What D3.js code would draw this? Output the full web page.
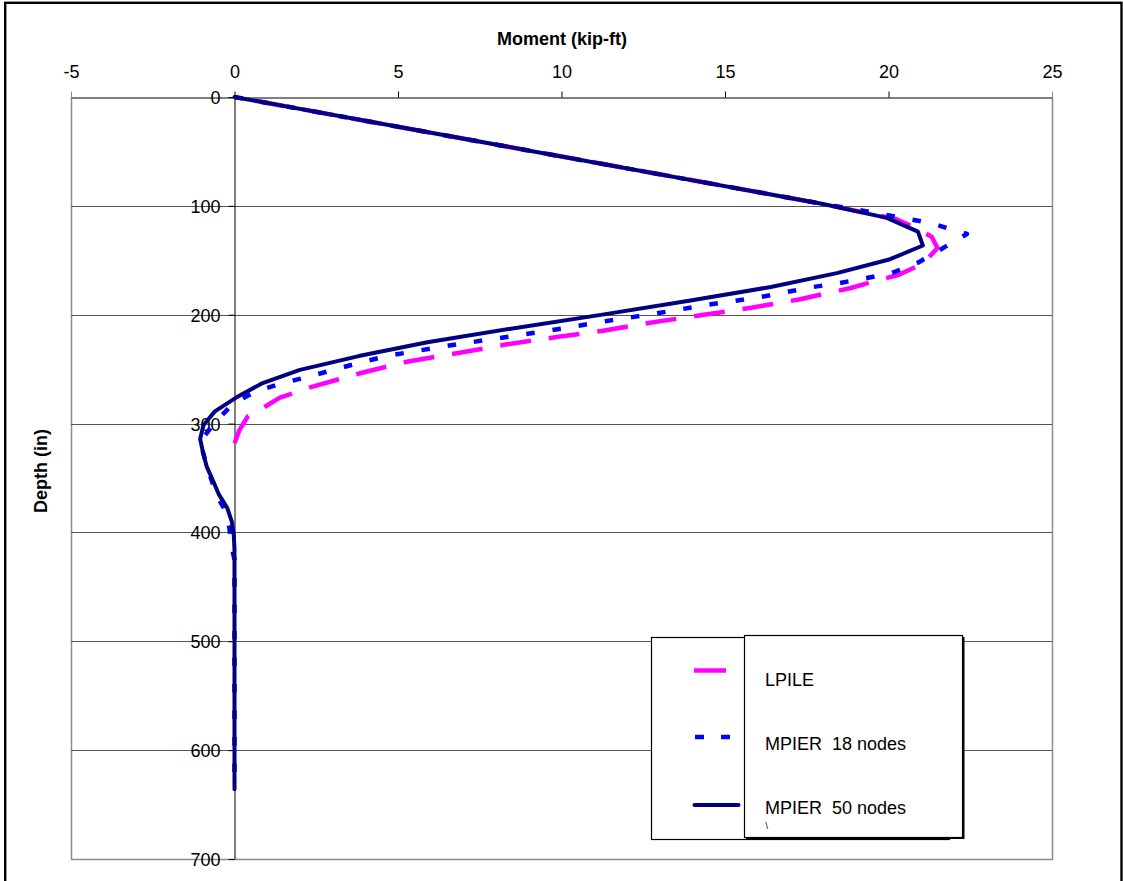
<!DOCTYPE html>
<html>
<head>
<meta charset="utf-8">
<script src="https://cdn.jsdelivr.net/npm/d3@7"></script>
<style>
  html, body { margin: 0; padding: 0; background: #fff; }
  svg text { font-family: "Liberation Sans", Arial, sans-serif; fill: #000; }
</style>
</head>
<body>
<svg id="chart" width="1123" height="881"></svg>
<script>
// Axis settings
const xTicks = [-5, 0, 5, 10, 15, 20, 25];
const yTicks = [0, 100, 200, 300, 400, 500, 600, 700];
const xTitle = "Moment (kip-ft)";
const yTitle = "Depth (in)";

// LPILE results: depth (in) and bending moment (kip-ft)
const lpileDepth  = [0, 50, 98.3, 112.3, 121.3, 128.3, 138.7, 153, 163.5, 168.7, 175.7, 180.3, 185.8, 193.6, 200.3, 207, 214.7, 220.5, 227.2, 235.4, 243.2, 253.8, 266.7, 276.2, 284.5, 293.7, 306, 318];
const lpileMoment = [0, 9.15, 18.0, 20.25, 20.9, 21.32, 21.5, 21.05, 20.3, 19.64, 18.82, 18.1, 17.3, 15.8, 14.3, 12.8, 11.27, 9.85, 8.33, 6.8, 5.27, 3.84, 2.31, 1.39, 0.93, 0.4, 0.15, 0.0];

// MPIER results, 18 nodes
const mp18Depth  = [0, 50, 98.3, 106.6, 115.7, 125.8, 140.5, 152.2, 161.7, 166.3, 170.9, 174.5, 183.7, 191, 199.3, 206.7, 215, 222.3, 229.6, 237.9, 244, 250.8, 257.2, 263.6, 270.7, 282, 299, 316.6, 340, 352, 365.6, 379, 395, 411.5, 425, 636];
const mp18Moment = [0, 9.15, 18.0, 19.64, 21.27, 22.4, 21.57, 20.9, 20.1, 19.34, 18.5, 17.7, 16.1, 14.45, 12.8, 11.2, 9.55, 7.9, 6.29, 4.66, 3.84, 3.01, 2.22, 1.39, 0.63, -0.05, -0.6, -1.05, -0.84, -0.7, -0.55, -0.3, -0.16, -0.1, 0, 0];

// MPIER results, 50 nodes
const mp50Depth  = [0, 50, 98.3, 111, 123.7, 136.4, 149, 161.8, 174.5, 187.2, 199.9, 212.6, 225.3, 238, 250.7, 263.4, 276.1, 288.8, 301.5, 314.2, 326.9, 339.6, 352.3, 365, 377.7, 390.4, 403.1, 415.8, 636];
const mp50Moment = [0, 9.15, 18.0, 19.95, 20.9, 21.05, 20.05, 18.42, 16.4, 13.9, 11.25, 8.5, 5.9, 3.8, 2.0, 0.82, 0.05, -0.6, -0.95, -1.05, -0.96, -0.85, -0.66, -0.48, -0.22, -0.08, -0.02, 0, 0];

const seriesNames = ["LPILE", "MPIER  18 nodes", "MPIER  50 nodes"];

const svg = d3.select("#chart");

// Outer chart frame
svg.append("rect")
  .attr("x", 5.2).attr("y", 2.8)
  .attr("width", 1116.3).attr("height", 900)
  .attr("fill", "#fff").attr("stroke", "#000").attr("stroke-width", 2.4);

const x = d3.scaleLinear().domain([-5, 25]).range([71, 1052]);
const y = d3.scaleLinear().domain([0, 700]).range([97, 859]);

const px = v => Math.round(v) + 0.5;

// Plot area border (left, right, bottom)
const plot = svg.append("g");
plot.append("path")
  .attr("d", `M${px(x(-5))},${px(y(0))}V${px(y(700))}H${px(x(25))}V${px(y(0))}`)
  .attr("fill", "none").attr("stroke", "#8c8c8c").attr("stroke-width", 1.5);

// Horizontal gridlines
plot.selectAll("line.grid")
  .data(yTicks.filter(t => t > 0 && t < 700))
  .join("line")
  .attr("class", "grid")
  .attr("x1", x(-5)).attr("x2", x(25))
  .attr("y1", d => px(y(d))).attr("y2", d => px(y(d)))
  .attr("stroke", "#555").attr("stroke-width", 1);

// Top (moment) axis; labels keep a plain hyphen for negatives
const xAxis = svg.append("g")
  .attr("transform", `translate(0,${px(y(0))})`)
  .call(d3.axisTop(x).tickValues(xTicks).tickFormat(d => String(d))
    .tickSize(6).tickSizeOuter(0).tickPadding(14));
xAxis.select(".domain").attr("stroke", "#000");
xAxis.selectAll(".tick line").attr("stroke", "#000");
xAxis.selectAll(".tick text").attr("font-size", 18).attr("font-family", null);
// Outer ticks render gray where they meet the plot border
xAxis.selectAll(".tick").filter(d => d === -5 || d === 25).select("line").attr("stroke", "#8c8c8c");

// Depth axis at zero moment
const yAxis = svg.append("g")
  .attr("transform", `translate(${px(x(0)) - 1},0)`)
  .call(d3.axisLeft(y).tickValues(yTicks).tickFormat(d => String(d))
    .tickSize(6).tickSizeOuter(0).tickPadding(8));
yAxis.select(".domain").attr("stroke", "#000");
yAxis.selectAll(".tick line").attr("stroke", "#000");
yAxis.selectAll(".tick text").attr("font-size", 18).attr("font-family", null).attr("dy", "0.36em");

// Axis titles
svg.append("text")
  .attr("x", 562).attr("y", 45)
  .attr("text-anchor", "middle")
  .attr("font-size", 18).attr("font-weight", "bold")
  .text(xTitle);
svg.append("text")
  .attr("transform", "translate(47,471) rotate(-90)")
  .attr("text-anchor", "middle")
  .attr("font-size", 18).attr("font-weight", "bold")
  .text(yTitle);

// Series
const line = d3.line().x(d => x(d[1])).y(d => y(d[0]));
const zip = (a, b) => a.map((v, i) => [v, b[i]]);

const series = [
  { name: seriesNames[0], pts: zip(lpileDepth, lpileMoment), color: "#ff00ff", width: 4.5, dash: [31, 18], cap: "butt", endOnDash: true },
  { name: seriesNames[1], pts: zip(mp18Depth, mp18Moment), color: "#0000ff", width: 4.5, dash: [8.5, 18], cap: "butt", endOnDash: false },
  { name: seriesNames[2], pts: zip(mp50Depth, mp50Moment), color: "#000080", width: 4, dash: null, cap: "round", endOnDash: false }
];

svg.append("g").selectAll("path")
  .data(series)
  .join("path")
  .attr("d", d => line(d.pts))
  .attr("fill", "none")
  .attr("stroke", d => d.color)
  .attr("stroke-width", d => d.width)
  .attr("stroke-dasharray", d => d.dash ? d.dash.join(",") : null)
  .attr("stroke-linecap", d => d.cap)
  .attr("stroke-linejoin", "round")
  .each(function (d) {
    // Align the dash pattern so the curve finishes on a full dash
    if (d.dash && d.endOnDash) {
      const period = d.dash[0] + d.dash[1];
      const len = this.getTotalLength();
      d3.select(this).attr("stroke-dashoffset", d.dash[0] - (len % period));
    }
  });

// Legend
const lg = svg.append("g");
lg.append("rect")
  .attr("x", 651.5).attr("y", 637.5).attr("width", 298).attr("height", 202)
  .attr("fill", "#fff").attr("stroke", "#000").attr("stroke-width", 1.2);
lg.append("rect")
  .attr("x", 746).attr("y", 637).attr("width", 218.5).attr("height", 202)
  .attr("fill", "#000");
lg.append("rect")
  .attr("x", 744.5).attr("y", 635.5).attr("width", 218).attr("height", 202)
  .attr("fill", "#fff").attr("stroke", "#000").attr("stroke-width", 1.2);

const legendRows = [
  { s: series[0], ly: 670.5, ty: 685.5, x1: 694, x2: 726, dash: null },
  { s: series[1], ly: 737, ty: 750, x1: 695, x2: 730, dash: "9,17" },
  { s: series[2], ly: 805, ty: 814, x1: 694.5, x2: 738.5, dash: null }
];
legendRows.forEach(r => {
  lg.append("line")
    .attr("x1", r.x1).attr("x2", r.x2).attr("y1", r.ly).attr("y2", r.ly)
    .attr("stroke", r.s.color).attr("stroke-width", r.s.width)
    .attr("stroke-dasharray", r.dash)
    .attr("stroke-linecap", r.s.cap);
  lg.append("text")
    .attr("x", 765).attr("y", r.ty)
    .attr("font-size", 18)
    .text(r.s.name.replace(/ /g, "\u00a0"));
});
lg.append("text")
  .attr("x", 765.5).attr("y", 829)
  .attr("font-size", 9)
  .text("\\");
</script>
</body>
</html>
